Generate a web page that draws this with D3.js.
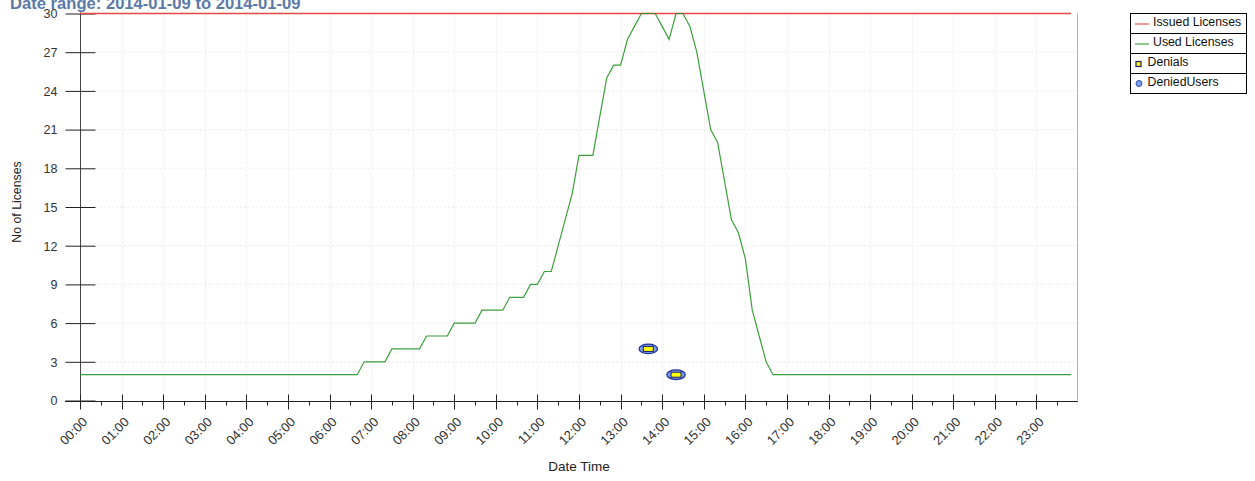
<!DOCTYPE html>
<html>
<head>
<meta charset="utf-8">
<script src="https://cdn.jsdelivr.net/npm/d3@7"></script>
<style>
  html, body { margin: 0; padding: 0; background: #fff; }
  svg { display: block; font-family: "Liberation Sans", Arial, Helvetica, sans-serif; }
</style>
</head>
<body>
<svg id="chart" width="1255" height="481"></svg>
<script>
// ---------- data ----------
const chartDate = "2014-01-09";
const titleText = "Date range: 2014-01-09 to 2014-01-09";
const yTickValues = [0, 3, 6, 9, 12, 15, 18, 21, 24, 27, 30];
const xTickLabels = ["00:00","01:00","02:00","03:00","04:00","05:00","06:00","07:00","08:00","09:00","10:00","11:00",
                     "12:00","13:00","14:00","15:00","16:00","17:00","18:00","19:00","20:00","21:00","22:00","23:00"];

const issuedTimes  = ["00:00", "23:50"];
const issuedValues = [30, 30];

const usedTimes = ["00:00","06:40","06:50","07:20","07:30","08:10","08:20","08:50","09:00","09:30","09:40",
                   "10:10","10:20","10:40","10:50","11:00","11:10","11:20","11:30","11:40","11:50","12:00",
                   "12:10","12:20","12:30","12:40","12:50","13:00","13:10","13:20","13:30","13:40","13:50",
                   "14:00","14:10","14:20","14:30","14:40","14:50","15:00","15:10","15:20","15:30","15:40",
                   "15:50","16:00","16:10","16:20","16:30","16:40","23:50"];
const usedValues = [2,2,3,3,4,4,5,5,6,6,7,
                    7,8,8,9,9,10,10,12,14,16,19,
                    19,19,22,25,26,26,28,29,30,30,30,
                    29,28,30,30,29,27,24,21,20,17,14,
                    13,11,7,5,3,2,2];

const denialTimes  = ["13:40", "14:20"];
const denialValues = [4, 2];
const deniedUserTimes  = ["13:40", "14:20"];
const deniedUserValues = [4, 2];

const legendLabels = ["Issued Licenses", "Used Licenses", "Denials", "DeniedUsers"];

// ---------- drawing ----------
(function () {
const parse = d3.timeParse("%Y-%m-%d %H:%M");
const t = s => parse(chartDate + " " + s);
const svg = d3.select("#chart");

const pLeft = 80, pRight = 1078, pTop = 13.5, pBottom = 400.5;
const x = d3.scaleTime()
  .domain([t("00:00"), d3.timeDay.offset(t("00:00"), 1)])
  .range([pLeft, pRight]);
const y = d3.scaleLinear().domain([0, 30]).range([pBottom, pTop]);

// grid
const grid = svg.append("g");
grid.selectAll("line.vg").data(xTickLabels.slice(1)).enter().append("line")
  .attr("x1", d => Math.round(x(t(d))) + 0.5).attr("x2", d => Math.round(x(t(d))) + 0.5)
  .attr("y1", pTop).attr("y2", pBottom)
  .attr("stroke", "#ececec").attr("stroke-dasharray", "2,2");
grid.selectAll("line.hg").data(yTickValues.slice(1, -1)).enter().append("line")
  .attr("x1", pLeft).attr("x2", pRight)
  .attr("y1", d => y(d)).attr("y2", d => y(d))
  .attr("stroke", "#ececec").attr("stroke-dasharray", "2,2");

// plot border (right)
svg.append("line").attr("x1", pRight - 0.5).attr("x2", pRight - 0.5).attr("y1", pTop).attr("y2", pBottom)
  .attr("stroke", "#b0b0b0");

// y axis
const yAxis = svg.append("g").attr("transform", `translate(${pLeft + 0.5},0)`)
  .call(d3.axisLeft(y).tickValues(yTickValues).tickSize(0).tickPadding(0));
yAxis.select(".domain").attr("stroke", "#444").attr("d", `M0,${pTop - 1}V${pBottom + 1}`);
yAxis.selectAll(".tick line").attr("x1", -15).attr("x2", 15).attr("stroke", "#222");
yAxis.selectAll(".tick text").attr("x", -23).attr("dy", "0.35em")
  .attr("font-size", 12.5).attr("fill", "#333").attr("font-family", "Liberation Sans, Arial, sans-serif");

// x axis
const axisY = 401.5;
const xAxisG = svg.append("g").attr("transform", `translate(0,${axisY})`);
xAxisG.append("line").attr("x1", 65).attr("x2", pRight).attr("y1", 0).attr("y2", 0).attr("stroke", "#222");
const minorTimes = xTickLabels.map(s => d3.timeMinute.offset(t(s), 30));
xAxisG.selectAll("line.minor").data(minorTimes).enter().append("line")
  .attr("x1", d => Math.round(x(d)) + 0.5).attr("x2", d => Math.round(x(d)) + 0.5)
  .attr("y1", 0).attr("y2", 4).attr("stroke", "#222");
xAxisG.selectAll("line.major").data(xTickLabels).enter().append("line")
  .attr("x1", d => Math.round(x(t(d))) + 0.5).attr("x2", d => Math.round(x(t(d))) + 0.5)
  .attr("y1", -7).attr("y2", 8).attr("stroke", "#222");
xAxisG.selectAll("text.lab").data(xTickLabels).enter().append("text")
  .attr("transform", d => `translate(${x(t(d)) + 5},${18}) rotate(-45)`)
  .attr("text-anchor", "end").attr("dy", "0.35em")
  .attr("font-size", 13).attr("fill", "#333")
  .text(d => d);

// axis titles
svg.append("text").attr("x", (pLeft + pRight) / 2).attr("y", 471).attr("text-anchor", "middle")
  .attr("font-size", 13.5).attr("fill", "#222").text("Date Time");
svg.append("text").attr("transform", `translate(21,202) rotate(-90)`).attr("text-anchor", "middle")
  .attr("font-size", 12.3).attr("fill", "#222").text("No of Licenses");

// title
svg.append("text").attr("x", 10).attr("y", 8.5).attr("font-size", 16.6).attr("font-weight", "bold")
  .attr("fill", "#5b7aa8").text(titleText);

// lines
const line = d3.line().x(d => x(t(d[0]))).y(d => y(d[1]));
svg.append("path").datum(d3.zip(issuedTimes, issuedValues)).attr("d", line)
  .attr("fill", "none").attr("stroke", "#e64646").attr("stroke-width", 1.6);
svg.append("path").datum(d3.zip(usedTimes, usedValues)).attr("d", line)
  .attr("fill", "none").attr("stroke", "#1a8f1a").attr("stroke-width", 1.2).attr("stroke-opacity", 0.85);

// denied users (ellipse markers) and denials (rect markers)
svg.selectAll("ellipse.du").data(d3.zip(deniedUserTimes, deniedUserValues)).enter().append("ellipse")
  .attr("cx", d => x(t(d[0]))).attr("cy", d => y(d[1]))
  .attr("rx", 9.2).attr("ry", 4.8)
  .attr("fill", "#7aa3e6").attr("stroke", "#1f2f9c").attr("stroke-width", 1.3);
svg.selectAll("rect.dn").data(d3.zip(denialTimes, denialValues)).enter().append("rect")
  .attr("x", d => x(t(d[0])) - 5).attr("y", d => y(d[1]) - 2.5)
  .attr("width", 10).attr("height", 5)
  .attr("fill", "#ffff00").attr("stroke", "#1a1a6e").attr("stroke-width", 1);

// legend
const lg = svg.append("g");
const lgX = 1130.5, lgY = 13.5, rowH = 20, lgW = 116;
lg.append("rect").attr("x", lgX).attr("y", lgY).attr("width", lgW).attr("height", rowH * 4)
  .attr("fill", "#fff").attr("stroke", "#000");
legendLabels.forEach((lab, i) => {
  const ry = lgY + i * rowH;
  if (i > 0) lg.append("line").attr("x1", lgX).attr("x2", lgX + lgW).attr("y1", ry).attr("y2", ry).attr("stroke", "#000");
  let tx = 1153;
  if (i === 0 || i === 1) {
    lg.append("line").attr("x1", 1135).attr("x2", 1149).attr("y1", ry + 10.5).attr("y2", ry + 10.5)
      .attr("stroke", i === 0 ? "#ee6a6e" : "#5cb55c").attr("stroke-width", 1.4);
  } else if (i === 2) {
    lg.append("rect").attr("x", 1136).attr("y", ry + 8).attr("width", 5).attr("height", 5)
      .attr("fill", "#ffff00").attr("stroke", "#1a1a6e").attr("stroke-width", 1.2);
    tx = 1147.5;
  } else {
    lg.append("circle").attr("cx", 1139).attr("cy", ry + 10).attr("r", 3)
      .attr("fill", "#7aa3e6").attr("stroke", "#2f4fc0").attr("stroke-width", 1);
    tx = 1147.5;
  }
  lg.append("text").attr("x", tx).attr("y", ry + 12.5).attr("font-size", 12.3).attr("fill", "#111").text(lab);
});
})();
</script>
</body>
</html>
